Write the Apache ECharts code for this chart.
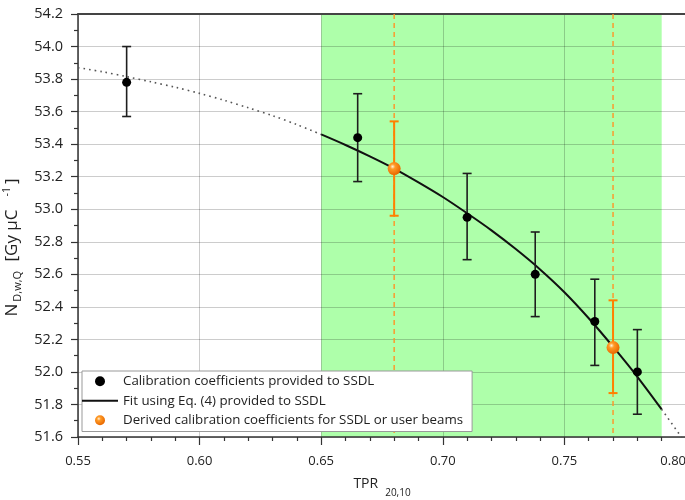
<!DOCTYPE html>
<html>
<head>
<meta charset="utf-8">
<script src="https://cdn.jsdelivr.net/npm/echarts@6/dist/echarts.min.js"></script>
<style>html,body{margin:0;padding:0;background:#fff;}#c{width:685px;height:500px;}</style>
</head>
<body>
<div id="c"></div>
<script>
// ---- data ----
const calX    = [0.570, 0.665, 0.710, 0.738, 0.7625, 0.780];
const calY    = [53.78, 53.44, 52.95, 52.60, 52.31, 52.00];
const calLow  = [53.57, 53.17, 52.69, 52.34, 52.04, 51.74];
const calHigh = [54.00, 53.71, 53.22, 52.86, 52.57, 52.26];

const derX    = [0.680, 0.770];
const derY    = [53.25, 52.15];
const derLow  = [52.96, 51.87];
const derHigh = [53.54, 52.44];

const fitX = [0.55,0.56,0.57,0.58,0.59,0.60,0.61,0.62,0.63,0.64,0.65,0.66,0.67,0.68,0.69,0.70,0.71,0.72,0.73,0.74,0.75,0.76,0.77,0.78,0.79,0.80];
const fitY = [53.87,53.845,53.815,53.783,53.75,53.712,53.67,53.624,53.575,53.52,53.46,53.395,53.325,53.25,53.165,53.075,52.975,52.87,52.755,52.63,52.49,52.33,52.155,51.97,51.77,51.56];

const bandRange = [0.65, 0.79];   // shaded TPR range (solid part of fit)
const xTicks = {min: 0.55, max: 0.80, interval: 0.05};
const yTicks = {min: 51.6, max: 54.2, interval: 0.2};

const names = [
  'Calibration coefficients provided to SSDL',
  'Fit using Eq. (4) provided to SSDL',
  'Derived calibration coefficients for SSDL or user beams'
];

// ---- chart ----
const FONT = 'Open Sans';
const chart = echarts.init(document.getElementById('c'), null, {renderer: 'canvas'});
const eps = 1e-6;
const fitPts = fitX.map((x, i) => [x, fitY[i]]);
const fitSolid = fitPts.filter(p => p[0] >= bandRange[0] - eps && p[0] <= bandRange[1] + eps);
const fitLeft  = fitPts.filter(p => p[0] <= bandRange[0] + eps);
const fitRight = fitPts.filter(p => p[0] >= bandRange[1] - eps);

function errBarRender(color, lw, cap) {
  return function (params, api) {
    const x = api.value(0), lo = api.value(1), hi = api.value(2);
    const a = api.coord([x, lo]), b = api.coord([x, hi]);
    const st = {stroke: color, lineWidth: lw, fill: null};
    return {type: 'group', children: [
      {type: 'line', shape: {x1: a[0], y1: a[1], x2: b[0], y2: b[1]}, style: st},
      {type: 'line', shape: {x1: a[0]-cap, y1: a[1], x2: a[0]+cap, y2: a[1]}, style: st},
      {type: 'line', shape: {x1: b[0]-cap, y1: b[1], x2: b[0]+cap, y2: b[1]}, style: st}
    ]};
  };
}

const orangeBall = new echarts.graphic.RadialGradient(0.38, 0.35, 0.65, [
  {offset: 0, color: '#fff3dc'},
  {offset: 0.3, color: '#ff9a26'},
  {offset: 1, color: '#e86800'}
]);

const option = {
  animation: false,
  backgroundColor: '#fff',
  grid: {left: 78, width: 608, top: 14, bottom: 63, containLabel: false, outerBoundsMode: 'none'},
  xAxis: [{
    type: 'value', min: xTicks.min, max: xTicks.max, interval: xTicks.interval, z: 2,
    axisLine: {show: true, onZero: false, lineStyle: {color: '#333', width: 1.5}},
    axisTick: {show: true, inside: false, length: 8, lineStyle: {color: '#333', width: 1.2}},
    minorTick: {show: true, splitNumber: 5, length: 4, lineStyle: {color: '#333', width: 1.2}},
    splitLine: {show: true, lineStyle: {color: 'rgba(0,0,0,0.2)', width: 1}},
    axisLabel: {margin: 18, fontSize: 13, color: '#222', fontFamily: FONT,
      formatter: v => v.toFixed(2), alignMaxLabel: 'right'},
    name: '{n|TPR}{s|20,10}', nameLocation: 'middle', nameGap: 37,
    nameTextStyle: {color: '#222', fontFamily: FONT, rich: {
      n: {fontSize: 14, fontFamily: FONT, color: '#222', lineHeight: 20},
      s: {fontSize: 10, fontFamily: FONT, color: '#222', verticalAlign: 'bottom', lineHeight: 10, padding: [0, 0, -4, 7]}
    }}
  }, {
    type: 'value', position: 'top', min: xTicks.min, max: xTicks.max, z: 2,
    axisLine: {show: true, onZero: false, lineStyle: {color: '#444', width: 2}},
    axisTick: {show: false}, axisLabel: {show: false}, splitLine: {show: false}
  }],
  yAxis: {
    type: 'value', min: yTicks.min, max: yTicks.max, interval: yTicks.interval, z: 2,
    axisLine: {show: true, onZero: false, lineStyle: {color: '#333', width: 1.5}},
    axisTick: {show: true, inside: false, length: 7, lineStyle: {color: '#333', width: 1.2}},
    minorTick: {show: true, splitNumber: 2, length: 4, lineStyle: {color: '#333', width: 1.2}},
    splitLine: {show: true, lineStyle: {color: 'rgba(0,0,0,0.2)', width: 1}},
    axisLabel: {margin: 15, fontSize: 14.5, color: '#222', fontFamily: FONT, formatter: v => v.toFixed(1)},
    name: '{n|N}{s|D,w,Q}{n| [Gy μC}{p|-1}{n|]}', nameLocation: 'middle', nameRotate: 90, nameGap: 42,
    nameTextStyle: {color: '#222', fontFamily: FONT, padding: [0, 44, 0, 0], rich: {
      n: {fontSize: 17, fontFamily: FONT, color: '#222', lineHeight: 22},
      s: {fontSize: 11, fontFamily: FONT, color: '#222', verticalAlign: 'bottom', lineHeight: 10, padding: [0, 5, 0, 2]},
      p: {fontSize: 10.5, fontFamily: FONT, color: '#222', verticalAlign: 'top', lineHeight: 10, padding: [0, 3, 0, 13]}
    }}
  },
  legend: {
    orient: 'vertical', left: 82, top: 371, z: 10,
    backgroundColor: '#fff', borderColor: '#999', borderWidth: 1,
    padding: [2, 9, 3, 0], itemGap: 3, itemWidth: 36, itemHeight: 10,
    textStyle: {fontSize: 13.3, color: '#222', fontFamily: FONT, lineHeight: 16.5},
    selectedMode: false,
    data: [
      {name: names[0], icon: 'circle'},
      {name: names[1], icon: 'path://M0,0H36V2H0Z'},
      {name: names[2], icon: 'circle', itemStyle: {color: orangeBall}}
    ]
  },
  series: [
    { // shaded band
      type: 'custom', name: 'band', z: 1, silent: true,
      data: [[bandRange[0], bandRange[1]]],
      encode: {x: [0, 1]},
      renderItem: function (params, api) {
        const cs = params.coordSys;
        const a = api.coord([api.value(0), yTicks.min]);
        const b = api.coord([api.value(1), yTicks.min]);
        return {type: 'rect', shape: {x: a[0], y: cs.y, width: b[0] - a[0], height: cs.height},
          style: {fill: '#aeffaa'}};
      }
    },
    { // dashed orange verticals
      type: 'custom', name: 'guides', z: 3, silent: true,
      data: derX.map(x => [x]),
      encode: {x: 0},
      renderItem: function (params, api) {
        const cs = params.coordSys;
        const a = api.coord([api.value(0), yTicks.min]);
        return {type: 'line', shape: {x1: a[0], y1: cs.y, x2: a[0], y2: cs.y + cs.height},
          style: {stroke: '#ff9326', lineWidth: 1.4, lineDash: [5, 4]}};
      }
    },
    {
      type: 'line', name: 'fitLeft', z: 4, data: fitLeft, smooth: 0.3, symbol: 'none',
      lineStyle: {color: '#555', width: 1.6, type: [1.6, 4]}, silent: true
    },
    {
      type: 'line', name: 'fitRight', z: 4, data: fitRight, smooth: 0.3, symbol: 'none',
      lineStyle: {color: '#555', width: 1.6, type: [1.6, 4]}, silent: true
    },
    {
      type: 'line', name: names[1], z: 4, data: fitSolid, smooth: 0.3, symbol: 'none', showSymbol: false,
      lineStyle: {color: '#111', width: 2}, itemStyle: {color: '#111'}
    },
    {
      type: 'custom', name: 'calErr', z: 5, silent: true,
      data: calX.map((x, i) => [x, calLow[i], calHigh[i]]),
      encode: {x: 0, y: [1, 2]},
      renderItem: errBarRender('#1e1e1e', 1.6, 4.5)
    },
    {
      type: 'custom', name: 'derErr', z: 5, silent: true,
      data: derX.map((x, i) => [x, derLow[i], derHigh[i]]),
      encode: {x: 0, y: [1, 2]},
      renderItem: errBarRender('#ff8000', 2, 4.5)
    },
    {
      type: 'scatter', name: names[0], z: 6, symbol: 'circle', symbolSize: 9,
      data: calX.map((x, i) => [x, calY[i]]), itemStyle: {color: '#000', opacity: 1}
    },
    {
      type: 'scatter', name: names[2], z: 6, symbol: 'circle', symbolSize: 13,
      data: derX.map((x, i) => [x, derY[i]]), itemStyle: {color: orangeBall, opacity: 1}
    }
  ]
};
chart.setOption(option);
</script>
</body>
</html>
